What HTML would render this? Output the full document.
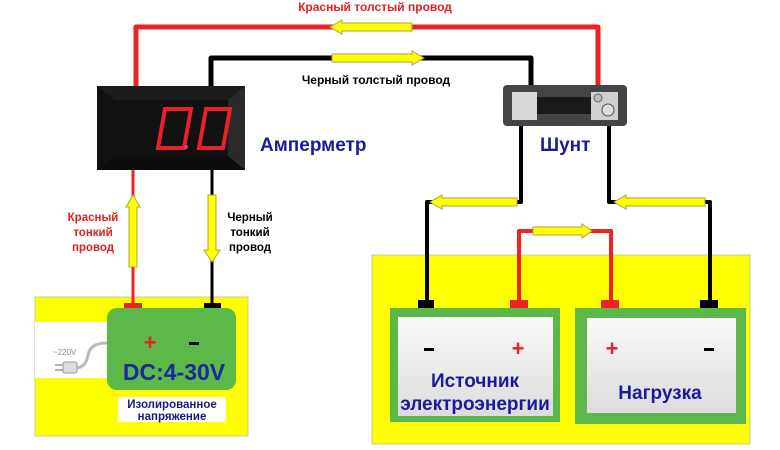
<!DOCTYPE html>
<html><head><meta charset="utf-8"><style>
html,body{margin:0;padding:0;background:#fff;}
svg{display:block;}
text{font-family:"Liberation Sans",sans-serif;font-weight:bold;}
</style></head><body>
<svg width="780" height="450" viewBox="0 0 780 450" xmlns="http://www.w3.org/2000/svg">
<defs>
<linearGradient id="wg" x1="0" y1="0" x2="0" y2="1"><stop offset="0" stop-color="#fafafa"/><stop offset="1" stop-color="#dcdcdc"/></linearGradient>
</defs>
<rect width="780" height="450" fill="#fff"/>

<!-- yellow boxes -->
<rect x="35" y="297" width="213" height="139" fill="#ffff00" stroke="#c8c8a0" stroke-width="1"/>
<rect x="35" y="322" width="75" height="56" fill="#fff"/>
<rect x="372" y="255" width="378" height="189" fill="#ffff00" stroke="#c8c8a0" stroke-width="1"/>

<!-- thick red wire -->
<path d="M136 88 V27 H598 V92" fill="none" stroke="#ee2222" stroke-width="5" stroke-linejoin="round"/>
<!-- thick black wire -->
<path d="M211 88 V58 H531 V92" fill="none" stroke="#000" stroke-width="5" stroke-linejoin="round"/>
<!-- shunt lower wires -->
<path d="M521 122 V202 H427 V302" fill="none" stroke="#000" stroke-width="4" stroke-linejoin="round"/>
<path d="M609 122 V202 H710 V302" fill="none" stroke="#000" stroke-width="4" stroke-linejoin="round"/>
<!-- ammeter thin wires -->
<path d="M133 170 V304" stroke="#ee2222" stroke-width="3"/>
<path d="M212 170 V304" stroke="#000" stroke-width="3"/>
<!-- source-load red -->
<path d="M519 302 V231 H611 V302" fill="none" stroke="#ee2222" stroke-width="4" stroke-linejoin="round"/>

<!-- arrows -->
<g fill="#ffff00" stroke="#b0a040" stroke-width="1">
<polygon points="342,23 412,23 412,31 342,31 342,34 330,27 342,20"/>
<polygon points="332,54 412,54 412,51 424,58 412,65 412,62 332,62"/>
<polygon points="442,198 517,198 517,206 442,206 442,209 430,202 442,195"/>
<polygon points="626,198 705,198 705,206 626,206 626,209 614,202 626,195"/>
<polygon points="533,227 582,227 582,224 592,231 582,238 582,235 533,235"/>
<polygon points="129,267 129,207 126,207 133,195 140,207 137,207 137,267"/>
<polygon points="208,195 216,195 216,250 220,250 212,262 204,250 208,250"/>
</g>

<!-- ammeter -->
<rect x="97" y="86" width="148" height="84" fill="#111"/>
<polygon points="97,86 245,86 228,100 115,100" fill="#1c1c1c"/>
<polygon points="97,170 245,170 228,156 115,156" fill="#0c0c0c"/>
<polygon points="228,100 245,86 245,170 228,156" fill="#2a2a2a"/>
<g fill="none" stroke="#e8202a" stroke-width="4">
<polygon points="165,109 191,109 184,148 158,148"/>
<polygon points="206,109 230,109 223,148 199,148"/>
</g>
<circle cx="186" cy="147" r="2" fill="#d04070"/>

<!-- shunt -->
<rect x="503" y="85" width="124" height="41" rx="4" fill="#444"/>
<rect x="537" y="97" width="55" height="17" fill="#1a1a1a"/>
<rect x="512" y="92" width="25" height="28" fill="#d8d8d8"/>
<rect x="591" y="92" width="27" height="28" fill="#d0d0d0"/>
<circle cx="598" cy="98" r="4" fill="#bbb" stroke="#666"/>
<circle cx="608" cy="110" r="6" fill="#ddd" stroke="#555"/>

<!-- labels top -->
<text x="375" y="11" font-size="12" fill="#e02020" text-anchor="middle">Красный толстый провод</text>
<text x="376" y="84" font-size="12" fill="#000" text-anchor="middle">Черный толстый провод</text>
<text x="260" y="151" font-size="19" fill="#1a1a9a">Амперметр</text>
<text x="540" y="151" font-size="19" fill="#1a1a9a">Шунт</text>
<g font-size="11.5" text-anchor="middle">
<text x="93" y="221" fill="#e02020">Красный</text>
<text x="93" y="236" fill="#e02020">тонкий</text>
<text x="93" y="251" fill="#e02020">провод</text>
<text x="250" y="221" fill="#000">Черный</text>
<text x="250" y="236" fill="#000">тонкий</text>
<text x="250" y="251" fill="#000">провод</text>
</g>

<!-- DC supply -->
<rect x="124" y="303" width="18" height="7" fill="#ee2222"/>
<rect x="204" y="303" width="17" height="7" fill="#000"/>
<rect x="107" y="308" width="129" height="82" rx="10" fill="#5cb848"/>
<text x="150" y="350" font-size="22" fill="#e82020" text-anchor="middle">+</text>
<rect x="189" y="342" width="10" height="3" fill="#000"/>
<text x="174" y="380" font-size="23" fill="#1a2a9a" text-anchor="middle">DC:4-30V</text>
<rect x="118" y="397" width="108" height="25" fill="#fff"/>
<text x="172" y="408" font-size="11.5" fill="#1a1a7a" text-anchor="middle">Изолированное</text>
<text x="172" y="420" font-size="11.5" fill="#1a1a7a" text-anchor="middle">напряжение</text>
<path d="M107 343 Q90 343 88 355 Q86 368 75 368" fill="none" stroke="#bbb" stroke-width="3"/>
<rect x="63" y="362" width="14" height="11" rx="2" fill="#ddd" stroke="#999"/>
<path d="M55 365 H63 M55 370 H63" stroke="#999" stroke-width="1.5"/>
<text x="53" y="355" font-size="8" fill="#888" style="font-weight:normal">~220V</text>

<!-- source & load -->
<rect x="418" y="300" width="16" height="8" fill="#000"/>
<rect x="510" y="300" width="18" height="8" fill="#ee2222"/>
<rect x="601" y="300" width="18" height="8" fill="#ee2222"/>
<rect x="700" y="300" width="18" height="8" fill="#000"/>
<rect x="390" y="308" width="170" height="114" fill="#5cb848"/>
<rect x="398" y="317" width="155" height="99" fill="url(#wg)"/>
<rect x="575" y="308" width="171" height="116" fill="#5cb848"/>
<rect x="587" y="318" width="149" height="95" fill="url(#wg)"/>
<rect x="424" y="348" width="10" height="3" fill="#000"/>
<text x="518" y="356" font-size="22" fill="#e82020" text-anchor="middle">+</text>
<text x="612" y="356" font-size="22" fill="#e82020" text-anchor="middle">+</text>
<rect x="704" y="348" width="10" height="3" fill="#000"/>
<text x="475" y="387" font-size="19" fill="#1a1a9a" text-anchor="middle">Источник</text>
<text x="475" y="410" font-size="19" fill="#1a1a9a" text-anchor="middle">электроэнергии</text>
<text x="660" y="399" font-size="19" fill="#1a1a9a" text-anchor="middle">Нагрузка</text>
</svg>
</body></html>
